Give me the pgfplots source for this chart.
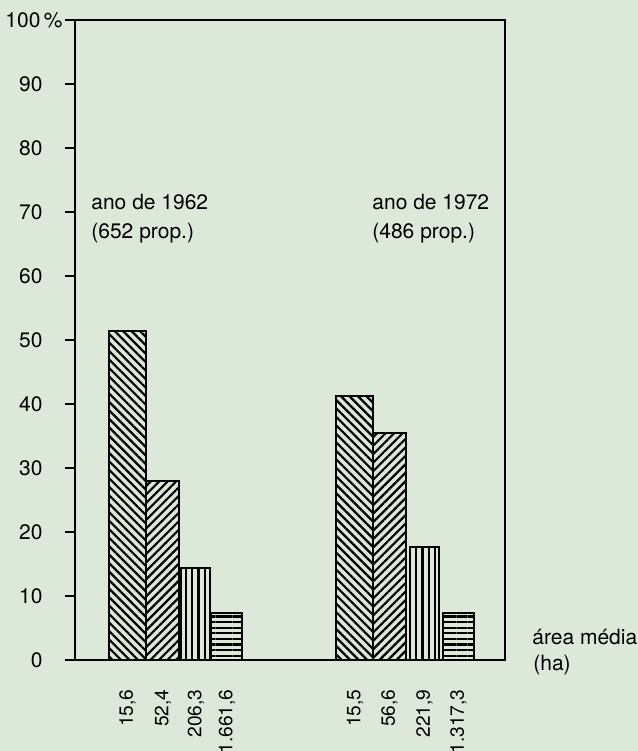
\documentclass[border=0pt]{standalone}
\usepackage{pgfplots}
\pgfplotsset{compat=1.18}
\usepackage{fontspec}
\setmainfont{TeX Gyre Heros}
\usetikzlibrary{patterns.meta}
\definecolor{bg}{RGB}{220,233,216}
\begin{document}
\fontsize{10.5}{12.6}\selectfont
\begin{tikzpicture}
\useasboundingbox (-37.5pt,-45.5pt) rectangle (281.5pt,330pt);
\fill[bg] (-37.5pt,-45.5pt) rectangle (281.5pt,330pt);
\begin{axis}[
  at={(0,0)}, anchor=south west,
  scale only axis, width=215pt, height=320pt,
  xmin=75, xmax=505, ymin=0, ymax=100,
  clip=false,
  axis line style={line width=1pt, black},
  ytick={0,10,...,90}, ytick pos=left, tick align=outside, major tick length=5pt,
  y tick style={line width=1pt, black},
  extra y ticks={100}, extra y tick labels={100\,\%},
  extra y tick style={yticklabel style={xshift=10pt}},
  yticklabel style={anchor=east, inner sep=0pt},
  yticklabel shift=11pt,
  xtick={127.5,163,196,227,355,389.5,424.5,458.5},
  xticklabels={{15,6},{52,4},{206,3},{1.661,6},{15,5},{56,6},{221,9},{1.317,3}},
  x tick style={draw=none},
  xtick pos=bottom,
  xticklabel style={rotate=90, anchor=east, inner sep=0pt, font=\fontsize{9.6}{11.5}\selectfont},
  xticklabel shift=9.5pt,
  /pgf/number format/assume math mode=true,
  yticklabel style={font=\fontsize{10.5}{12.6}\selectfont},
]
\addplot[ybar, bar width=37, bar shift=0pt, draw=black, line width=1pt,
  pattern={Lines[angle=-45,distance=3pt,line width=1.1pt]}, pattern color=black]
  coordinates {(127.5,51.4) (355,41.3)};
\addplot[ybar, bar width=33, bar shift=0pt, draw=black, line width=1pt,
  pattern={Lines[angle=45,distance=3pt,line width=1.1pt]}, pattern color=black]
  coordinates {(163,28.0) (389.5,35.4)};
\addplot[ybar, bar width=29, bar shift=0pt, draw=black, line width=1pt,
  pattern={Lines[angle=90,distance=3.2pt,line width=1.1pt]}, pattern color=black]
  coordinates {(196,14.4) (424.5,17.6)};
\addplot[ybar, bar width=31, bar shift=0pt, draw=black, line width=1pt,
  pattern={Lines[angle=0,distance=2.8pt,line width=1.1pt]}, pattern color=black]
  coordinates {(227,7.4) (458.5,7.4)};
\node[anchor=west, inner sep=0pt] at (axis cs:91,71.6) {ano de 1962};
\node[anchor=west, inner sep=0pt] at (axis cs:91,66.7) {(652 prop.)};
\node[anchor=west, inner sep=0pt] at (axis cs:372,71.6) {ano de 1972};
\node[anchor=west, inner sep=0pt] at (axis cs:372,66.7) {(486 prop.)};
\node[anchor=west, inner sep=0pt] at (axis cs:532,3.6) {área média};
\node[anchor=west, inner sep=0pt] at (axis cs:533,-0.8) {(ha)};
\end{axis}
\end{tikzpicture}
\end{document}
